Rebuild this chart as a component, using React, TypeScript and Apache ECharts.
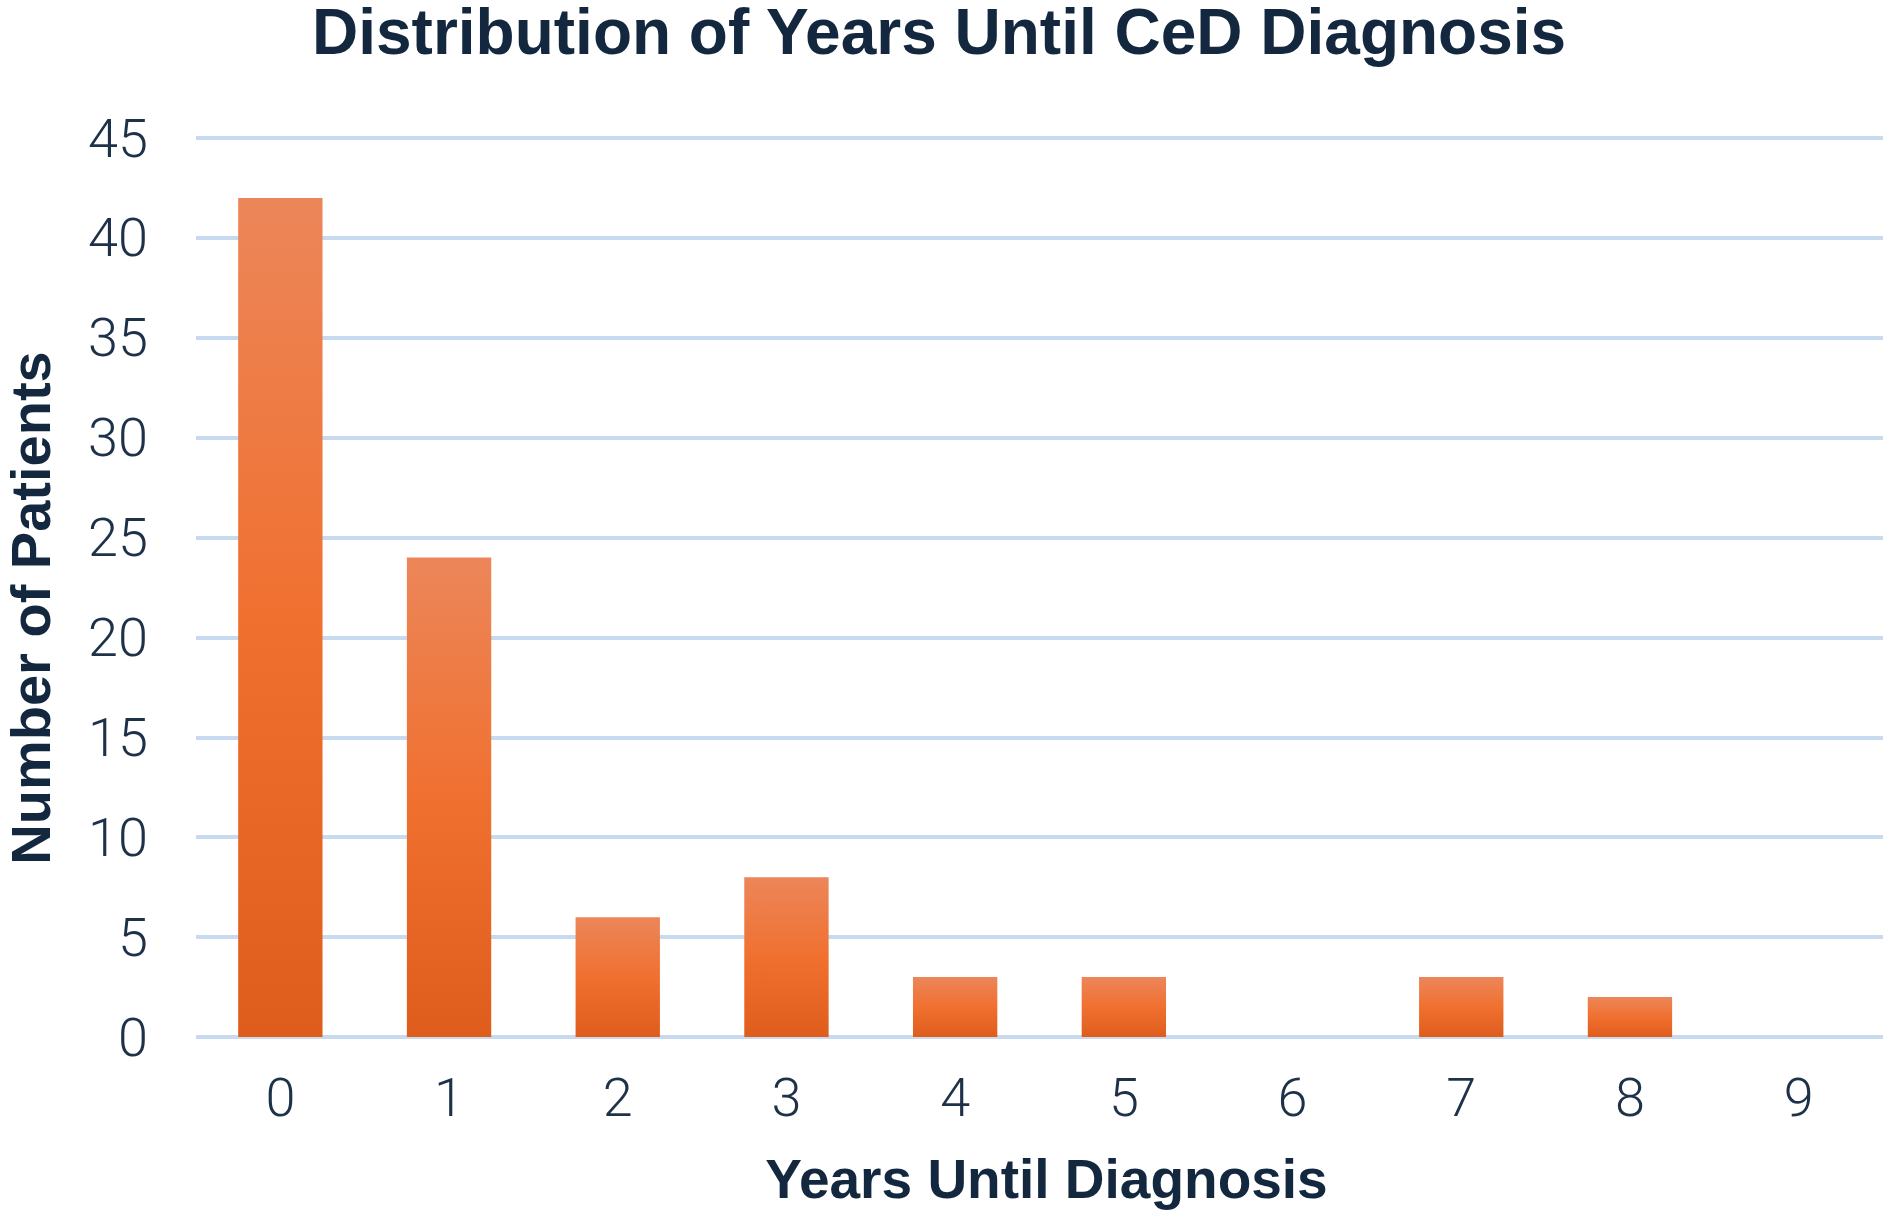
import React, { useEffect, useRef } from "react";
import * as echarts from "echarts";

const titleText = "Distribution of Years Until CeD Diagnosis";
const xAxisName = "Years Until Diagnosis";
const yAxisName = "Number of Patients";
const categories = ["0", "1", "2", "3", "4", "5", "6", "7", "8", "9"];
const patientCounts = [42, 24, 6, 8, 3, 3, 0, 3, 2, 0];
const yMin = 0;
const yMax = 45;
const yInterval = 5;

const navy = "#13283f";
const labelColor = "#1d3149";

export default function App() {
  const ref = useRef<HTMLDivElement>(null);
  useEffect(() => {
    if (!ref.current) return;
    const chart = echarts.init(ref.current, undefined, { renderer: "svg" });
    const barGradient = new echarts.graphic.LinearGradient(0, 0, 0, 1, [
      { offset: 0, color: "#ec8659" },
      { offset: 0.5, color: "#f07030" },
      { offset: 1, color: "#df5d1c" },
    ]);
    chart.setOption({
      animation: false,
      backgroundColor: "#ffffff",
      title: {
        text: titleText,
        left: 312,
        top: 3,
        padding: 0,
        textStyle: {
          fontFamily: "Liberation Sans",
          fontWeight: "bold",
          fontSize: 64,
          lineHeight: 58,
          color: navy,
        },
      },
      grid: {
        left: 196,
        right: 7,
        top: 138,
        bottom: 183,
        containLabel: false,
        outerBoundsMode: "none",
      },
      xAxis: {
        type: "category",
        data: categories,
        name: xAxisName,
        nameLocation: "middle",
        nameGap: 114,
        nameTextStyle: {
          fontFamily: "Liberation Sans",
          fontWeight: "bold",
          fontSize: 55,
          color: navy,
          padding: [0, 0, 0, 14],
        },
        axisLine: { show: false },
        axisTick: { show: false },
        axisLabel: {
          margin: 33,
          fontFamily: "Roboto",
          fontWeight: 300,
          fontSize: 54,
          color: labelColor,
        },
      },
      yAxis: {
        type: "value",
        min: yMin,
        max: yMax,
        interval: yInterval,
        name: yAxisName,
        nameLocation: "middle",
        nameGap: 138,
        nameTextStyle: {
          fontFamily: "Liberation Sans",
          fontWeight: "bold",
          fontSize: 56,
          color: navy,
          padding: [0, 41, 0, 0],
        },
        axisLine: { show: false },
        axisTick: { show: false },
        axisLabel: {
          margin: 48,
          fontFamily: "Roboto",
          fontWeight: 300,
          fontSize: 54,
          color: labelColor,
        },
        splitLine: { show: true, lineStyle: { color: "#c8daef", width: 4 } },
      },
      series: [
        {
          type: "bar",
          data: patientCounts,
          barCategoryGap: "50%",
          itemStyle: { color: barGradient },
          z: 1,
        },
      ],
    });
    return () => chart.dispose();
  }, []);
  return (
    <div
      ref={ref}
      style={{ position: "fixed", left: 0, top: 0, width: 1890, height: 1220 }}
    />
  );
}
